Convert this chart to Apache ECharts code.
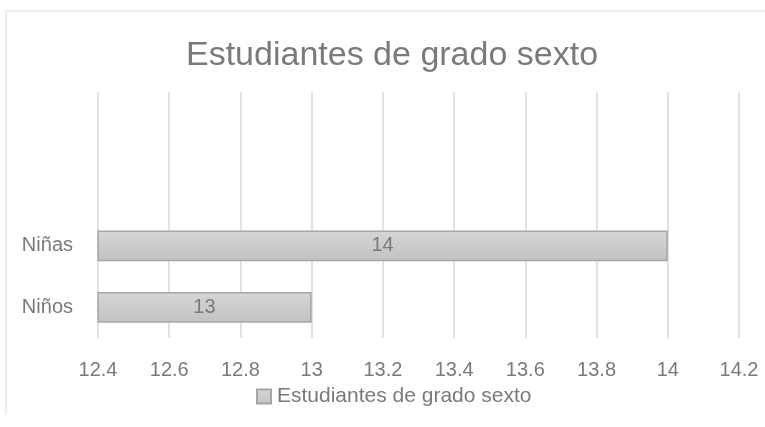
<!DOCTYPE html>
<html><head><meta charset="utf-8">
<script src="https://cdn.jsdelivr.net/npm/echarts@6/dist/echarts.min.js"></script>
<style>html,body{margin:0;padding:0;background:#fff}#c{width:765px;height:427px}</style>
</head><body><div id="c"></div>
<script>
const titleText = 'Estudiantes de grado sexto';
const seriesName = 'Estudiantes de grado sexto';
const categories = ['Niños', 'Niñas', '', ''];
const values = [13, 14, null, null];
const xMin = 12.4, xMax = 14.2, xStep = 0.2;

const FONT = '"Liberation Sans", "Open Sans", sans-serif';
const TXT = '#7a7a7a';
const chart = echarts.init(document.getElementById('c'), null, {renderer: 'canvas'});
chart.setOption({
  animation: false,
  backgroundColor: '#fff',
  graphic: [
    {type: 'polyline', shape: {points: [[6, 415], [6, 11], [765, 11]]}, style: {stroke: '#d9d9d9', lineWidth: 1, fill: null}, silent: true}
  ],
  title: {
    text: titleText, left: 186, top: 39, padding: 0,
    textStyle: {fontFamily: FONT, fontSize: 34, fontWeight: 'normal', color: TXT}
  },
  legend: {
    data: [seriesName], left: 256, top: 386, padding: 0,
    itemWidth: 14, itemHeight: 14, itemGap: 5,
    icon: 'rect',
    textStyle: {fontFamily: FONT, fontSize: 21, color: TXT, padding: [0, 0, 0, 1]}
  },
  grid: {left: 98, right: 26, top: 92, bottom: 89, containLabel: false},
  xAxis: {
    type: 'value', min: xMin, max: xMax, interval: xStep,
    axisLine: {show: false}, axisTick: {show: false},
    splitLine: {show: true, lineStyle: {color: '#d9d9d9', width: 1.5}},
    axisLabel: {
      fontFamily: FONT, fontSize: 20, color: TXT, margin: 22,
      formatter: v => String(Math.round(v * 10) / 10)
    }
  },
  yAxis: {
    type: 'category', data: categories,
    axisLine: {show: false}, axisTick: {show: false},
    axisLabel: {fontFamily: FONT, fontSize: 20, color: TXT, margin: 25}
  },
  series: [{
    name: seriesName, type: 'bar', data: values, barWidth: '50%',
    itemStyle: {
      color: new echarts.graphic.LinearGradient(0, 0, 0, 1, [
        {offset: 0, color: '#d6d6d6'}, {offset: 1, color: '#c2c2c2'}
      ]),
      borderColor: '#a6a6a6', borderWidth: 1.5
    },
    label: {show: true, position: 'inside', fontFamily: FONT, fontSize: 20, color: TXT}
  }]
});
</script></body></html>
